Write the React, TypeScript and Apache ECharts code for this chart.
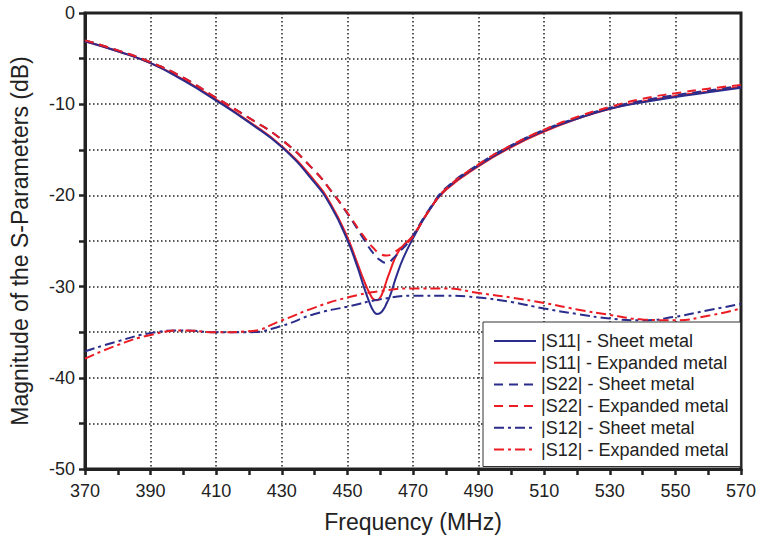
import React, { useEffect, useRef } from "react";
import * as echarts from "echarts";

const freqS11 = [370, 380, 390, 400, 410, 420, 430, 440, 445, 450, 453, 455, 457, 458, 459, 460, 461, 462, 463, 465, 467, 470, 475, 480, 490, 500, 510, 520, 530, 540, 550, 560, 570];
const s11Sheet = [-3.1, -4.2, -5.5, -7.4, -9.6, -12.0, -14.7, -18.6, -21.2, -24.9, -27.8, -30.0, -32.0, -32.7, -33.0, -32.9, -32.5, -31.8, -31.0, -28.8, -26.9, -24.7, -21.6, -19.3, -16.7, -14.6, -12.9, -11.6, -10.5, -9.8, -9.2, -8.7, -8.2];
const s11Expanded = [-3.1, -4.2, -5.5, -7.3, -9.5, -11.9, -14.6, -18.4, -21.0, -24.6, -27.4, -29.3, -30.9, -31.4, -31.5, -31.2, -30.4, -29.3, -28.3, -26.5, -25.5, -24.4, -21.6, -19.4, -16.8, -14.7, -13.0, -11.6, -10.5, -9.7, -9.1, -8.6, -8.1];

const freqS22 = [370, 380, 390, 400, 410, 420, 430, 440, 445, 450, 455, 458, 460, 462, 464, 466, 468, 470, 475, 480, 490, 500, 510, 520, 530, 540, 550, 560, 570];
const s22Sheet = [-3.0, -4.1, -5.4, -7.1, -9.3, -11.5, -13.9, -17.3, -19.5, -22.0, -24.8, -26.4, -27.1, -27.4, -26.9, -26.1, -25.4, -24.4, -21.5, -19.2, -16.6, -14.5, -12.8, -11.5, -10.4, -9.6, -9.0, -8.5, -8.0];
const s22Expanded = [-3.0, -4.1, -5.4, -7.1, -9.3, -11.5, -13.9, -17.3, -19.5, -21.9, -24.5, -25.8, -26.4, -26.6, -26.3, -25.8, -25.3, -24.5, -21.6, -19.3, -16.6, -14.5, -12.8, -11.4, -10.3, -9.4, -8.8, -8.3, -7.9];

const freqS12 = [370, 380, 390, 400, 410, 420, 430, 440, 450, 460, 470, 480, 490, 500, 510, 520, 530, 540, 550, 560, 570];
const s12Sheet = [-37.1, -36.0, -35.1, -34.8, -35.0, -35.0, -34.3, -33.0, -32.2, -31.4, -31.0, -31.0, -31.2, -31.7, -32.4, -33.0, -33.5, -33.7, -33.3, -32.6, -31.9];
const s12Expanded = [-37.9, -36.4, -35.3, -34.8, -35.0, -34.9, -33.7, -32.3, -31.2, -30.5, -30.2, -30.2, -30.7, -31.2, -31.8, -32.5, -33.1, -33.6, -33.7, -33.2, -32.4];

const legendNames = [
  "|S11| - Sheet metal",
  "|S11| - Expanded metal",
  "|S22| - Sheet metal",
  "|S22| - Expanded metal",
  "|S12| - Sheet metal",
  "|S12| - Expanded metal",
];

const BLUE = "#2b2d8c";
const RED = "#ec1c24";
const INK = "#222222";
const FONT = "Liberation Sans, Arial, sans-serif";

const pairs = (xs: number[], ys: number[]) => xs.map((x, i) => [x, ys[i]]);

export default function App() {
  const ref = useRef<HTMLDivElement>(null);
  useEffect(() => {
    if (!ref.current) return;
    const chart = echarts.init(ref.current, undefined, { renderer: "svg" });
    const mk = (name: string, xs: number[], ys: number[], color: string, type: any) => ({
      name,
      type: "line",
      data: pairs(xs, ys),
      smooth: true,
      symbol: "none",
      showSymbol: false,
      lineStyle: { color, width: 2, type },
      itemStyle: { color },
    });
    const dash = [9, 6];
    const dashDot = [10, 4, 3, 4];
    chart.setOption({
      animation: false,
      backgroundColor: "#ffffff",
      grid: {
        left: 85,
        right: 19,
        top: 13,
        bottom: 70,
        show: true,
        borderColor: INK,
        borderWidth: 3,
        backgroundColor: "transparent",
      },
      legend: {
        data: legendNames,
        orient: "vertical",
        left: 483,
        top: 322,
        padding: [10, 12, 8, 10],
        itemWidth: 42,
        itemHeight: 14,
        itemGap: 3.7,
        backgroundColor: "#ffffff",
        borderColor: "#333333",
        borderWidth: 1,
        borderRadius: 0,
        itemStyle: { opacity: 0 },
        textStyle: { fontFamily: FONT, fontSize: 18, color: INK, lineHeight: 18 },
      },
      xAxis: {
        type: "value",
        min: 370,
        max: 570,
        interval: 20,
        name: "Frequency (MHz)",
        nameLocation: "middle",
        nameGap: 41,
        nameMoveOverlap: false,
        nameTextStyle: { fontFamily: FONT, fontSize: 23, color: INK },
        axisLine: { show: true, onZero: false, lineStyle: { color: INK, width: 3 } },
        axisTick: { show: true, inside: false, length: 6, lineStyle: { color: INK, width: 2.5 } },
        minorTick: { show: true, splitNumber: 2, length: 6, lineStyle: { color: INK, width: 2.5 } },
        axisLabel: { fontFamily: FONT, fontSize: 18, color: INK, margin: 13 },
        splitLine: { show: true, lineStyle: { color: INK, width: 1.5, type: [1.5, 2.5] } },
      },
      yAxis: {
        type: "value",
        min: -50,
        max: 0,
        interval: 5,
        name: "Magnitude of the S-Parameters (dB)",
        nameLocation: "middle",
        nameGap: 54,
        nameMoveOverlap: false,
        nameTextStyle: { fontFamily: FONT, fontSize: 23, color: INK },
        axisLine: { show: true, onZero: false, lineStyle: { color: INK, width: 3 } },
        axisTick: { show: true, inside: false, length: 6, lineStyle: { color: INK, width: 2.5 } },
        axisLabel: {
          fontFamily: FONT,
          fontSize: 18,
          color: INK,
          margin: 10,
          formatter: (v: number) => (Math.round(v) % 10 === 0 ? String(Math.round(v)) : ""),
        },
        splitLine: { show: true, lineStyle: { color: INK, width: 1.5, type: [1.5, 2.5] } },
      },
      series: [
        mk(legendNames[1], freqS11, s11Expanded, RED, "solid"),
        mk(legendNames[0], freqS11, s11Sheet, BLUE, "solid"),
        mk(legendNames[2], freqS22, s22Sheet, BLUE, dash),
        mk(legendNames[3], freqS22, s22Expanded, RED, dash),
        mk(legendNames[4], freqS12, s12Sheet, BLUE, dashDot),
        mk(legendNames[5], freqS12, s12Expanded, RED, dashDot),
      ],
    });
    return () => chart.dispose();
  }, []);
  return <div ref={ref} style={{ width: 760, height: 539, position: "absolute", left: 0, top: 0 }} />;
}
